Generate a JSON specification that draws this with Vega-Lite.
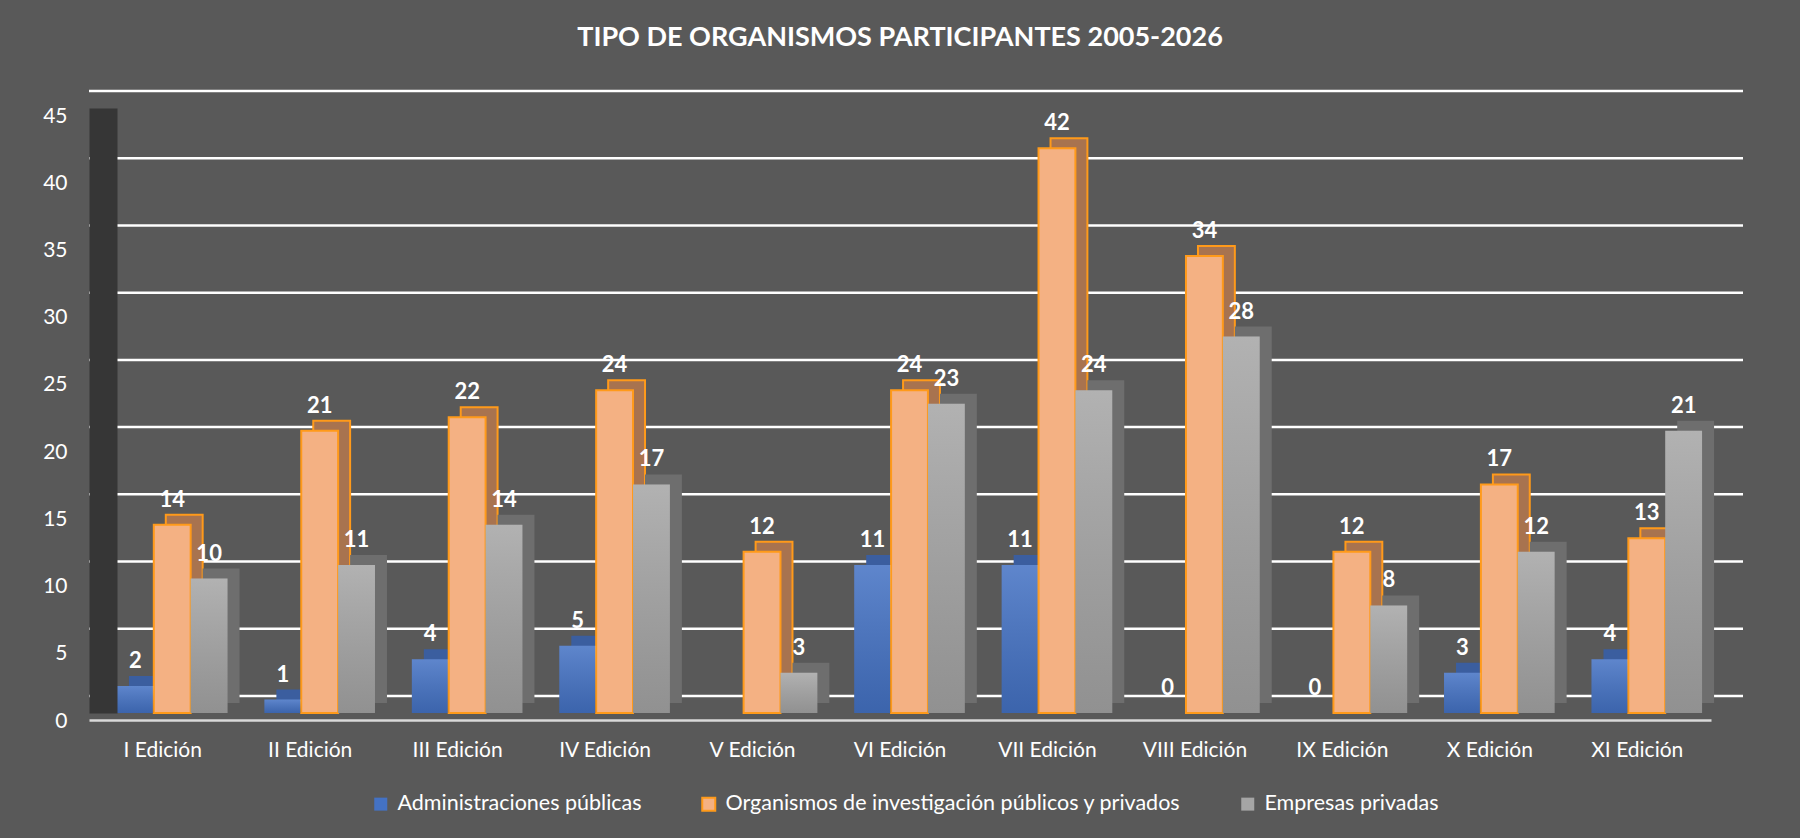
{
  "$schema": "https://vega.github.io/schema/vega-lite/v6.json",
  "autosize": "none",
  "width": 1622,
  "height": 605,
  "padding": {"left": 89, "top": 108, "right": 89, "bottom": 125},
  "background": "#595959",
  "config": {
    "view": {"stroke": null},
    "font": "Lato",
    "axis": {"labelFont": "Lato", "labelColor": "#FFFFFF", "labelFontSize": 21, "title": null, "ticks": false, "grid": false},
    "legend": {"labelFont": "Lato", "labelColor": "#FFFFFF", "labelFontSize": 21.5, "labelLimit": 700}
  },
  "title": {
    "text": "TIPO DE ORGANISMOS PARTICIPANTES 2005-2026",
    "color": "#FFFFFF",
    "font": "Lato",
    "fontSize": 27,
    "fontWeight": "bold",
    "anchor": "middle",
    "frame": "group",
    "offset": 38
  },
  "layer": [
    {
      "data": {"values": [{"v": 0}, {"v": 5}, {"v": 10}, {"v": 15}, {"v": 20}, {"v": 25}, {"v": 30}, {"v": 35}, {"v": 40}, {"v": 45}]},
      "mark": {"type": "rule", "color": "#FFFFFF", "strokeWidth": 2.5, "xOffset": 32, "x2Offset": 32, "yOffset": -17},
      "encoding": {
        "y": {"field": "v", "type": "quantitative", "scale": {"domain": [0, 45]}}
      }
    },
    {
      "data": {
        "values": [
          {"edicion": "I Edición", "serie": "Administraciones públicas", "valor": 2},
          {"edicion": "I Edición", "serie": "Organismos de investigación públicos y privados", "valor": 14},
          {"edicion": "I Edición", "serie": "Empresas privadas", "valor": 10},
          {"edicion": "II Edición", "serie": "Administraciones públicas", "valor": 1},
          {"edicion": "II Edición", "serie": "Organismos de investigación públicos y privados", "valor": 21},
          {"edicion": "II Edición", "serie": "Empresas privadas", "valor": 11},
          {"edicion": "III Edición", "serie": "Administraciones públicas", "valor": 4},
          {"edicion": "III Edición", "serie": "Organismos de investigación públicos y privados", "valor": 22},
          {"edicion": "III Edición", "serie": "Empresas privadas", "valor": 14},
          {"edicion": "IV Edición", "serie": "Administraciones públicas", "valor": 5},
          {"edicion": "IV Edición", "serie": "Organismos de investigación públicos y privados", "valor": 24},
          {"edicion": "IV Edición", "serie": "Empresas privadas", "valor": 17},
          {"edicion": "V Edición", "serie": "Administraciones públicas", "valor": null},
          {"edicion": "V Edición", "serie": "Organismos de investigación públicos y privados", "valor": 12},
          {"edicion": "V Edición", "serie": "Empresas privadas", "valor": 3},
          {"edicion": "VI Edición", "serie": "Administraciones públicas", "valor": 11},
          {"edicion": "VI Edición", "serie": "Organismos de investigación públicos y privados", "valor": 24},
          {"edicion": "VI Edición", "serie": "Empresas privadas", "valor": 23},
          {"edicion": "VII Edición", "serie": "Administraciones públicas", "valor": 11},
          {"edicion": "VII Edición", "serie": "Organismos de investigación públicos y privados", "valor": 42},
          {"edicion": "VII Edición", "serie": "Empresas privadas", "valor": 24},
          {"edicion": "VIII Edición", "serie": "Administraciones públicas", "valor": 0},
          {"edicion": "VIII Edición", "serie": "Organismos de investigación públicos y privados", "valor": 34},
          {"edicion": "VIII Edición", "serie": "Empresas privadas", "valor": 28},
          {"edicion": "IX Edición", "serie": "Administraciones públicas", "valor": 0},
          {"edicion": "IX Edición", "serie": "Organismos de investigación públicos y privados", "valor": 12},
          {"edicion": "IX Edición", "serie": "Empresas privadas", "valor": 8},
          {"edicion": "X Edición", "serie": "Administraciones públicas", "valor": 3},
          {"edicion": "X Edición", "serie": "Organismos de investigación públicos y privados", "valor": 17},
          {"edicion": "X Edición", "serie": "Empresas privadas", "valor": 12},
          {"edicion": "XI Edición", "serie": "Administraciones públicas", "valor": 4},
          {"edicion": "XI Edición", "serie": "Organismos de investigación públicos y privados", "valor": 13},
          {"edicion": "XI Edición", "serie": "Empresas privadas", "valor": 21}
        ]
      },
      "encoding": {
        "x": {
          "field": "edicion",
          "type": "nominal",
          "sort": null,
          "scale": {"paddingInner": 0.25, "paddingOuter": 0.125},
          "axis": {"labelAngle": 0, "domainColor": "#D9D9D9", "domainWidth": 2.5, "offset": 7, "labelPadding": 19}
        },
        "y": {
          "field": "valor",
          "type": "quantitative",
          "scale": {"domain": [0, 45]},
          "axis": {"values": [0, 5, 10, 15, 20, 25, 30, 35, 40, 45], "domain": true, "domainColor": "#363636", "domainWidth": 28, "offset": -14, "labelPadding": 36, "labelOffset": 8, "zindex": 1}
        }
      },
      "resolve": {"scale": {"xOffset": "independent"}},
      "layer": [
        {
          "mark": {"type": "bar", "yOffset": -10, "strokeWidth": 2},
          "encoding": {
            "xOffset": {
              "field": "serie",
              "type": "nominal",
              "scale": {
                "domain": ["Administraciones públicas", "Organismos de investigación públicos y privados", "Empresas privadas"],
                "range": [21.5, 132.1],
                "paddingInner": 0,
                "paddingOuter": 0
              }
            },
            "color": {
              "condition": [
                {"test": "datum.serie === 'Administraciones públicas'", "value": "#3B5E9F"},
                {"test": "datum.serie === 'Empresas privadas'", "value": "#6E6E6E"}
              ],
              "value": "#A8734F"
            },
            "stroke": {
              "condition": {"test": "datum.serie === 'Organismos de investigación públicos y privados'", "value": "#FF9A1A"},
              "value": null
            }
          }
        },
        {
          "mark": {"type": "bar", "strokeWidth": 2},
          "encoding": {
            "xOffset": {
              "field": "serie",
              "type": "nominal",
              "scale": {
                "domain": ["Administraciones públicas", "Organismos de investigación públicos y privados", "Empresas privadas"],
                "range": [9.5, 120.1],
                "paddingInner": 0,
                "paddingOuter": 0
              }
            },
            "color": {
              "field": "serie",
              "type": "nominal",
              "scale": {
                "domain": ["Administraciones públicas", "Organismos de investigación públicos y privados", "Empresas privadas"],
                "range": ["#4472C4", "#F4B183", "#A5A5A5"]
              },
              "legend": {
                "title": null,
                "orient": "none",
                "legendX": 281,
                "legendY": 685,
                "direction": "horizontal",
                "symbolType": "square",
                "symbolSize": 169,
                "symbolStrokeWidth": 2,
                "columnPadding": 56,
                "labelOffset": 6
              }
            },
            "stroke": {
              "field": "serie",
              "type": "nominal",
              "scale": {
                "domain": ["Administraciones públicas", "Organismos de investigación públicos y privados", "Empresas privadas"],
                "range": ["rgba(0,0,0,0)", "#FF9A1A", "rgba(0,0,0,0)"]
              },
              "legend": null
            }
          }
        },
        {
          "transform": [{"filter": "datum.serie !== 'Organismos de investigación públicos y privados'"}],
          "mark": {
            "type": "bar",
            "color": {
              "gradient": "linear",
              "x1": 0, "y1": 0, "x2": 0, "y2": 1,
              "stops": [
                {"offset": 0, "color": "rgba(255,255,255,0.14)"},
                {"offset": 1, "color": "rgba(0,0,0,0.12)"}
              ]
            }
          },
          "encoding": {
            "xOffset": {
              "field": "serie",
              "type": "nominal",
              "scale": {
                "domain": ["Administraciones públicas", "Organismos de investigación públicos y privados", "Empresas privadas"],
                "range": [9.5, 120.1],
                "paddingInner": 0,
                "paddingOuter": 0
              }
            }
          }
        },
        {
          "mark": {"type": "text", "dy": -18, "baseline": "alphabetic", "color": "#FFFFFF", "font": "Lato", "fontSize": 22, "fontWeight": "bold"},
          "encoding": {
            "xOffset": {
              "field": "serie",
              "type": "nominal",
              "scale": {
                "domain": ["Administraciones públicas", "Organismos de investigación públicos y privados", "Empresas privadas"],
                "range": [27.9, 101.7],
                "paddingOuter": 0
              }
            },
            "text": {"field": "valor", "type": "quantitative"}
          }
        }
      ]
    }
  ]
}
